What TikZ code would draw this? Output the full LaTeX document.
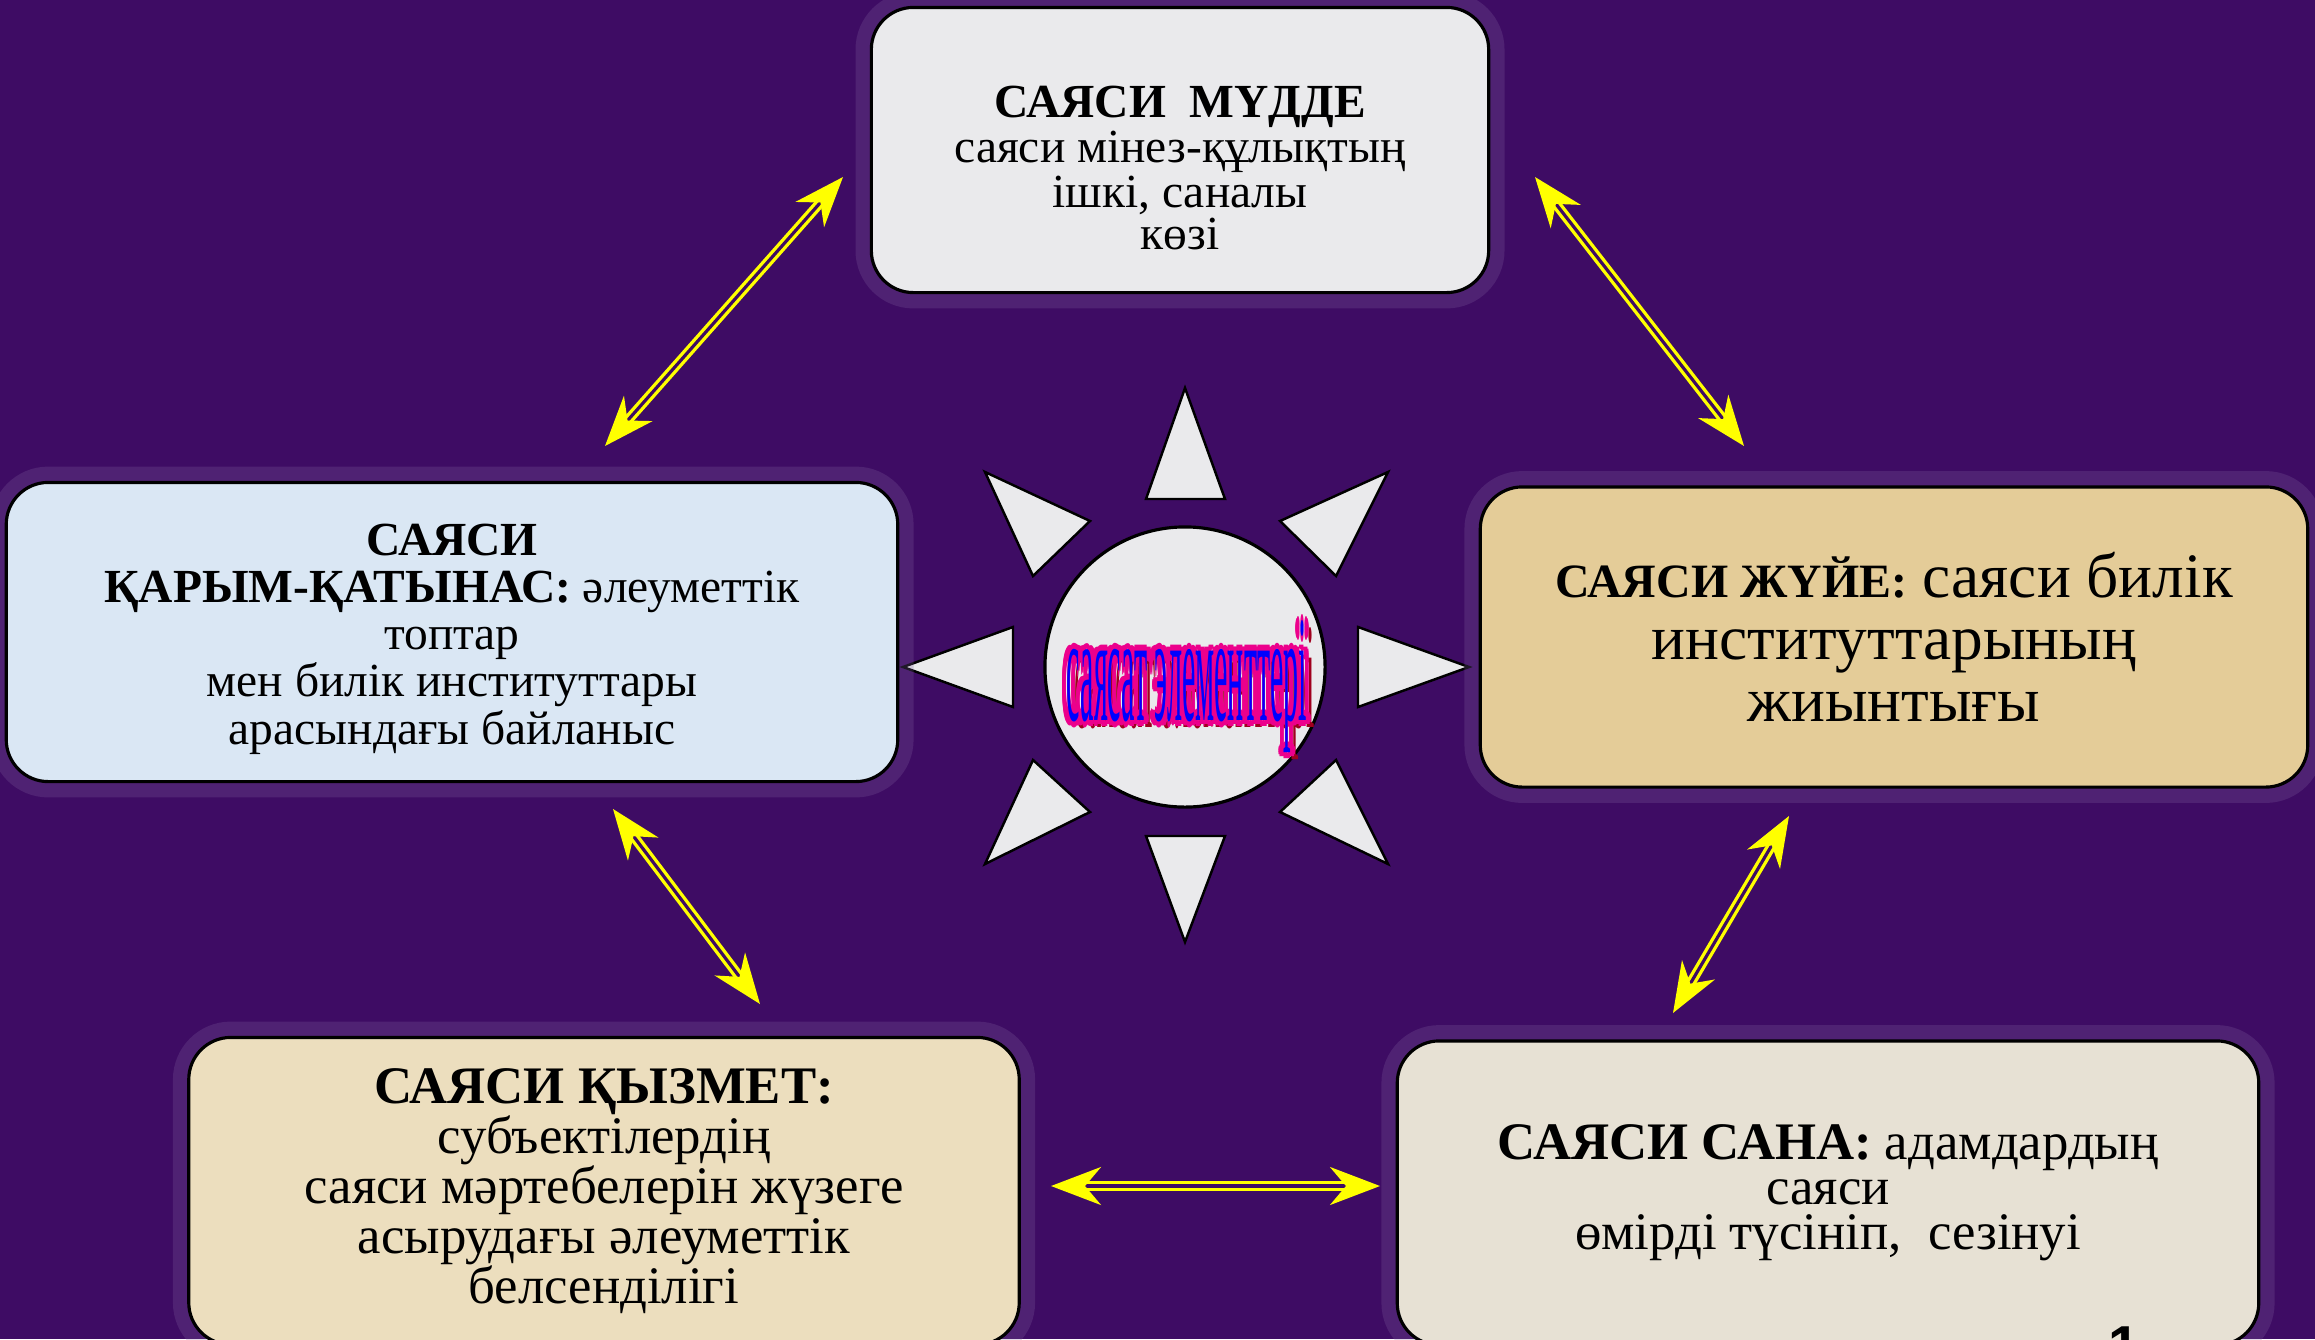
\documentclass[tikz,border=0pt]{standalone}
\usepackage{fontspec}
\setmainfont{Liberation Serif}
\setsansfont{Liberation Sans}
\usetikzlibrary{arrows.meta}

\definecolor{bgpurple}{RGB}{62,12,100}
\definecolor{haze}{RGB}{130,100,160}
\definecolor{marble}{RGB}{234,234,236}
\definecolor{icyblue}{RGB}{218,231,244}
\definecolor{papyrus}{RGB}{228,204,152}
\definecolor{parchment}{RGB}{236,222,190}
\definecolor{linen}{RGB}{231,225,212}
\definecolor{arrowyellow}{RGB}{255,255,0}
\definecolor{shadowred}{RGB}{160,0,30}

\newcommand{\sunwords}{саясат элементтері}
\newcommand{\sunbox}[1]{\resizebox{2.4cm}{1cm}{#1}}

\tikzset{
    element/.style={draw=black, line width=0.9pt, rounded corners=0.42cm, align=center, inner sep=0pt,
        preaction={draw=haze, line width=9pt, opacity=0.25}},
    ray/.style={draw=black, line width=0.7pt, fill=marble},
    sunword/.style={inner sep=0pt, anchor=base},
    link/.style={draw=arrowyellow, line width=0.95pt, double=bgpurple, double distance=0.9pt,
        {Stealth[length=0.5cm, width=0.38cm, inset=0.16cm]}-{Stealth[length=0.5cm, width=0.38cm, inset=0.16cm]}},
}

\begin{document}
\begin{tikzpicture}[x=0.01cm, y=-0.01cm]
    \useasboundingbox (0,0) rectangle (2315,1339);
    \clip (0,0) rectangle (2315,1339);
    \fill[bgpurple] (0,0) rectangle (2315,1339);

    % the sun in the middle
    \draw[ray] (1185,388) -- (1225,499) -- (1146,499) -- cycle;
    \draw[ray] (1146,836) -- (1225,836) -- (1185,942) -- cycle;
    \draw[ray] (903,667) -- (1013,627) -- (1013,707) -- cycle;
    \draw[ray] (1469,667) -- (1358,627) -- (1358,707) -- cycle;
    \draw[ray] (985,472) -- (1090,521) -- (1033,576) -- cycle;
    \draw[ray] (1388,472) -- (1280,521) -- (1336,576) -- cycle;
    \draw[ray] (1033,760) -- (1090,812) -- (985,864) -- cycle;
    \draw[ray] (1336,760) -- (1280,812) -- (1388,864) -- cycle;
    \node[circle, draw=black, line width=0.9pt, fill=marble, minimum size=2.8cm, inner sep=0pt] (sun) at (1185,667) {};

    \node[sunword, text=shadowred] (sun-shadow) at (1195,727) {\sunbox{\sunwords}};
    \foreach \dx/\dy [count=\i] in {-5/0, 5/0, 0/-6, 0/6, -4/-4, 4/-4, -4/4, 4/4, -5/-2, 5/2, -5/2, 5/-2}
        \node[sunword, text=magenta] (sun-edge-\i) at (1187+\dx,720+\dy) {\sunbox{\sunwords}};
    \node[sunword, text=blue] (sun-label) at (1187,720) {\sunbox{\sunwords}};

    % the five elements
    \node[element, fill=marble, minimum width=6.17cm, minimum height=2.85cm, font=\fontsize{13.5}{11.8}\selectfont] (interest) at (1180,150)
        {\rule{0pt}{19pt}\textbf{САЯСИ\ \ МҮДДЕ}\\саяси мінез-құлықтың\\ішкі, саналы\\көзі};
    \node[element, fill=icyblue, minimum width=8.91cm, minimum height=2.99cm, font=\fontsize{13.5}{13.4}\selectfont] (relation) at (452,632)
        {\rule{0pt}{13pt}\textbf{САЯСИ}\\\textbf{ҚАРЫМ-ҚАТЫНАС:} әлеуметтік\\топтар\\мен билік институттары\\арасындағы байланыс};
    \node[element, fill=papyrus, minimum width=8.27cm, minimum height=3cm, font=\fontsize{18}{17.6}\selectfont] (system) at (1894,637)
        {{\fontsize{13.6}{17.6}\selectfont\textbf{САЯСИ ЖҮЙЕ:}} саяси билік\\институттарының\\жиынтығы};
    \node[element, fill=parchment, minimum width=8.3cm, minimum height=3.07cm, font=\fontsize{15}{14.2}\selectfont] (activity) at (604,1191)
        {\textbf{САЯСИ ҚЫЗМЕТ:}\\субъектілердің\\саяси мәртебелерін жүзеге\\асырудағы әлеуметтік\\белсенділігі};
    \node[element, fill=linen, minimum width=8.61cm, minimum height=3.04cm, font=\fontsize{15}{12.8}\selectfont] (awareness) at (1828,1193)
        {\textbf{САЯСИ САНА:} адамдардың\\саяси\\өмірді түсініп,\ \ сезінуі};
    \node[font=\sffamily\bfseries\fontsize{16}{16}\selectfont, anchor=north, inner sep=0pt] (page-number) at (2124,1326) {1};

    % links between them
    \coordinate (relation-top) at (605,446);
    \coordinate (interest-west) at (843,177);
    \coordinate (interest-east) at (1535,177);
    \coordinate (system-top) at (1744,446);
    \coordinate (relation-bottom) at (613,809);
    \coordinate (activity-top) at (760,1004);
    \coordinate (system-bottom) at (1789,816);
    \coordinate (awareness-top) at (1673,1013);
    \coordinate (activity-east) at (1051,1186);
    \coordinate (awareness-west) at (1380,1186);
    \draw[link] (relation-top) -- (interest-west);
    \draw[link] (interest-east) -- (system-top);
    \draw[link] (relation-bottom) -- (activity-top);
    \draw[link] (system-bottom) -- (awareness-top);
    \draw[link] (activity-east) -- (awareness-west);
\end{tikzpicture}
\end{document}
